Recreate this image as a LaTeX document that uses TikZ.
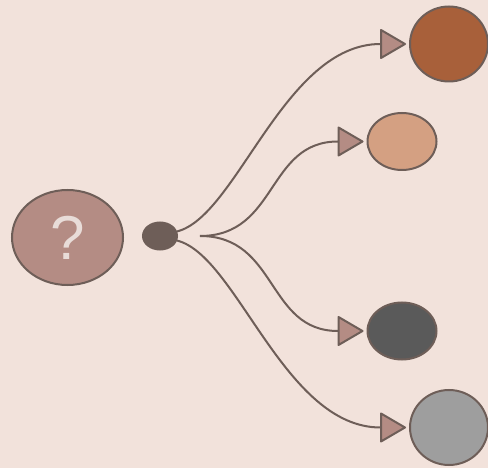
\documentclass[tikz,border=0pt]{standalone}
\usepackage{fontspec}
\setmainfont{Liberation Sans}
\usetikzlibrary{shapes.geometric,arrows.meta}

\begin{document}
\begin{tikzpicture}[x=1pt,y=-1pt]

% Define outcome colors
\definecolor{bgcolor}{RGB}{242,226,219}
\definecolor{edgecolor}{RGB}{110,94,88}
\definecolor{mysterycolor}{RGB}{180,140,132}
\definecolor{markcolor}{RGB}{232,220,216}
\colorlet{tipcolor}{mysterycolor}
\definecolor{rustcolor}{RGB}{168,96,58}
\definecolor{sandcolor}{RGB}{212,160,130}
\definecolor{slatecolor}{RGB}{90,90,90}
\definecolor{ashcolor}{RGB}{158,158,158}

\fill[bgcolor] (0,0) rectangle (488,468);
\useasboundingbox (0,0) rectangle (488,468);

\begin{scope}[
every node/.style={ellipse, draw=edgecolor, line width=2pt, inner sep=0pt},
mystery/.style={fill=mysterycolor, minimum width=111pt, minimum height=95pt,
    text=markcolor, font=\fontsize{62}{62}\selectfont},
hub/.style={fill=edgecolor, minimum width=34pt, minimum height=27pt},
big outcome/.style={minimum width=78pt, minimum height=75pt},
small outcome/.style={minimum width=69pt, minimum height=57pt},
branch/.style={draw=edgecolor, line width=2pt,
    -{Triangle[length=27pt,width=31pt,round,fill=tipcolor,sep=3pt]}}]
\node [mystery] (unknown) at (67.5,237.5) {?};
\node [hub] (hub) at (160,236) {};
\coordinate (split) at (200,236);
\node [big outcome, fill=rustcolor] (rust) at (449,44) {};
\node [small outcome, fill=sandcolor] (sand) at (402,141.5) {};
\node [small outcome, fill=slatecolor] (slate) at (402,331) {};
\node [big outcome, fill=ashcolor] (ash) at (449,427.5) {};

% outer branches start at the hub, inner ones at the split
\draw [branch] (hub.15) .. controls +(60,-15) and +(-125,0) .. (rust.west);
\draw [branch] (split) .. controls +(78,0) and +(-100,0) .. (sand.west);
\draw [branch] (split) .. controls +(78,0) and +(-100,0) .. (slate.west);
\draw [branch] (hub.-15) .. controls +(60,15) and +(-125,0) .. (ash.west);
\end{scope}
\end{tikzpicture}
\end{document}
